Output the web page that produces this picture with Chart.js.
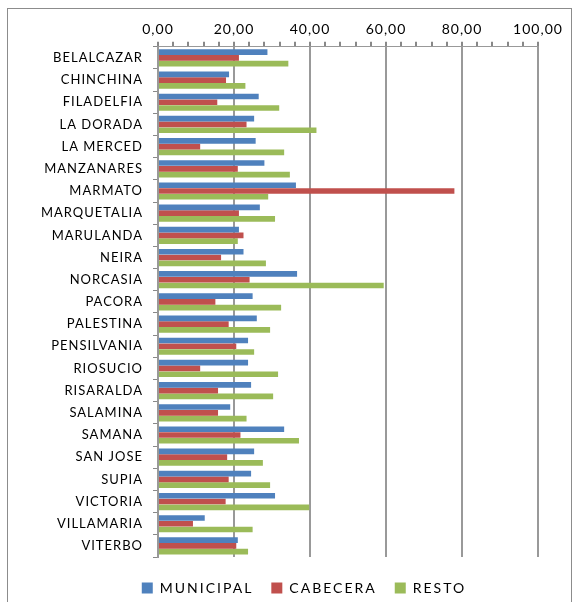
<!DOCTYPE html>
<html>
<head>
<meta charset="utf-8">
<script src="https://cdn.jsdelivr.net/npm/chart.js@4.4.0/dist/chart.umd.min.js"></script>
<style>
  body { margin: 0; background: #fff; }
  #wrap { position: relative; width: 580px; height: 602px; }
  #frame { position: absolute; left: 7px; top: 8px; width: 565px; height: 600px; border: 1px solid #8c8c8c; box-sizing: border-box; }
  canvas { position: absolute; left: 0; top: 0; }
</style>
</head>
<body>
<div id="wrap">
  <div id="frame"></div>
  <canvas id="chart" width="580" height="602"></canvas>
</div>
<script>
// municipios
var categories = ['BELALCAZAR', 'CHINCHINA', 'FILADELFIA', 'LA DORADA', 'LA MERCED', 'MANZANARES',
  'MARMATO', 'MARQUETALIA', 'MARULANDA', 'NEIRA', 'NORCASIA', 'PACORA', 'PALESTINA',
  'PENSILVANIA', 'RIOSUCIO', 'RISARALDA', 'SALAMINA', 'SAMANA', 'SAN JOSE', 'SUPIA',
  'VICTORIA', 'VILLAMARIA', 'VITERBO'];
var seriesNames = ['MUNICIPAL', 'CABECERA', 'RESTO'];
var municipal = [28.8, 18.7, 26.5, 25.3, 25.7, 28.0, 36.3, 26.8, 21.3, 22.5, 36.6, 24.9, 26.0,
  23.7, 23.7, 24.5, 19.0, 33.2, 25.3, 24.5, 30.8, 12.3, 21.0];
var cabecera = [21.3, 17.9, 15.6, 23.3, 11.1, 21.0, 78.0, 21.3, 22.5, 16.6, 24.1, 15.1, 18.6,
  20.6, 11.1, 15.8, 15.8, 21.7, 18.2, 18.6, 17.8, 9.2, 20.6];
var resto = [34.3, 23.0, 31.9, 41.7, 33.2, 34.7, 29.0, 30.8, 21.0, 28.4, 59.4, 32.4, 29.5,
  25.3, 31.6, 30.3, 23.3, 37.1, 27.6, 29.5, 39.8, 24.9, 23.7];
var xTicks = [0, 20, 40, 60, 80, 100];

var colors = ['#4F81BD', '#C0504D', '#9BBB59'];
var font = { family: 'Lato, "Open Sans", sans-serif', size: 13 };
var xFont = { family: 'Lato, "Open Sans", sans-serif', size: 14 };
var legendFont = { family: 'Lato, "Open Sans", sans-serif', size: 14 };

// excel-ish wide text
var spacing = {
  id: 'spacing',
  beforeUpdate: function (c) { c.ctx.letterSpacing = '1px'; },
  beforeDraw: function (c) { c.ctx.letterSpacing = '1px'; }
};

var ctx = document.getElementById('chart');
var myChart = new Chart(ctx, {
  type: 'bar',
  data: {
    labels: categories,
    datasets: [
      { label: seriesNames[0], data: municipal, backgroundColor: colors[0] },
      { label: seriesNames[1], data: cabecera, backgroundColor: colors[1] },
      { label: seriesNames[2], data: resto, backgroundColor: colors[2] }
    ]
  },
  options: {
    indexAxis: 'y',
    responsive: false,
    animation: false,
    datasets: { bar: { categoryPercentage: 0.78, barPercentage: 0.98 } },
    layout: { padding: { left: 8, right: 42, top: 17, bottom: 0 } },
    plugins: {
      tooltip: { enabled: false },
      legend: {
        position: 'bottom',
        labels: { color: '#000', font: legendFont, boxWidth: 11, boxHeight: 11, padding: 18 }
      }
    },
    scales: {
      x: {
        position: 'top',
        min: 0,
        max: 100,
        afterBuildTicks: function (s) {
          var t = [];
          for (var v = 0; v <= 100; v += 4) t.push({ value: v });
          s.ticks = t;
        },
        ticks: {
          autoSkip: false,
          maxRotation: 0,
          color: '#000',
          font: xFont,
          padding: 4,
          callback: function (v) {
            return xTicks.indexOf(v) >= 0 ? v.toFixed(2).replace('.', ',') : '';
          }
        },
        grid: {
          color: function (c) {
            var v = c.tick ? c.tick.value : 0;
            return (v % 20 === 0 && v !== 0) ? '#999' : 'rgba(0,0,0,0)';
          },
          tickColor: '#888',
          tickLength: 5,
          lineWidth: 2
        },
        border: { color: '#999', width: 1 }
      },
      y: {
        afterFit: function (s) { s.width = 150; },
        ticks: { color: '#000', font: font, padding: 10 },
        grid: { offset: true, drawOnChartArea: false, tickLength: 5, tickColor: '#888' },
        border: { color: '#999', width: 2 }
      }
    }
  },
  plugins: [spacing]
});

// legend: wider letters, fixed box height, nudged into place
var lg = myChart.legend;
var lgFit = lg.fit, lgDraw = lg.draw;
lg.fit = function () {
  this.ctx.letterSpacing = '2px';
  lgFit.apply(this, arguments);
  this.ctx.letterSpacing = '1px';
  this.height = 45;
};
lg.draw = function () {
  var c = this.ctx;
  c.save();
  c.letterSpacing = '2px';
  c.translate(31, 6);
  lgDraw.apply(this, arguments);
  c.restore();
};
myChart.update();
</script>
</body>
</html>
